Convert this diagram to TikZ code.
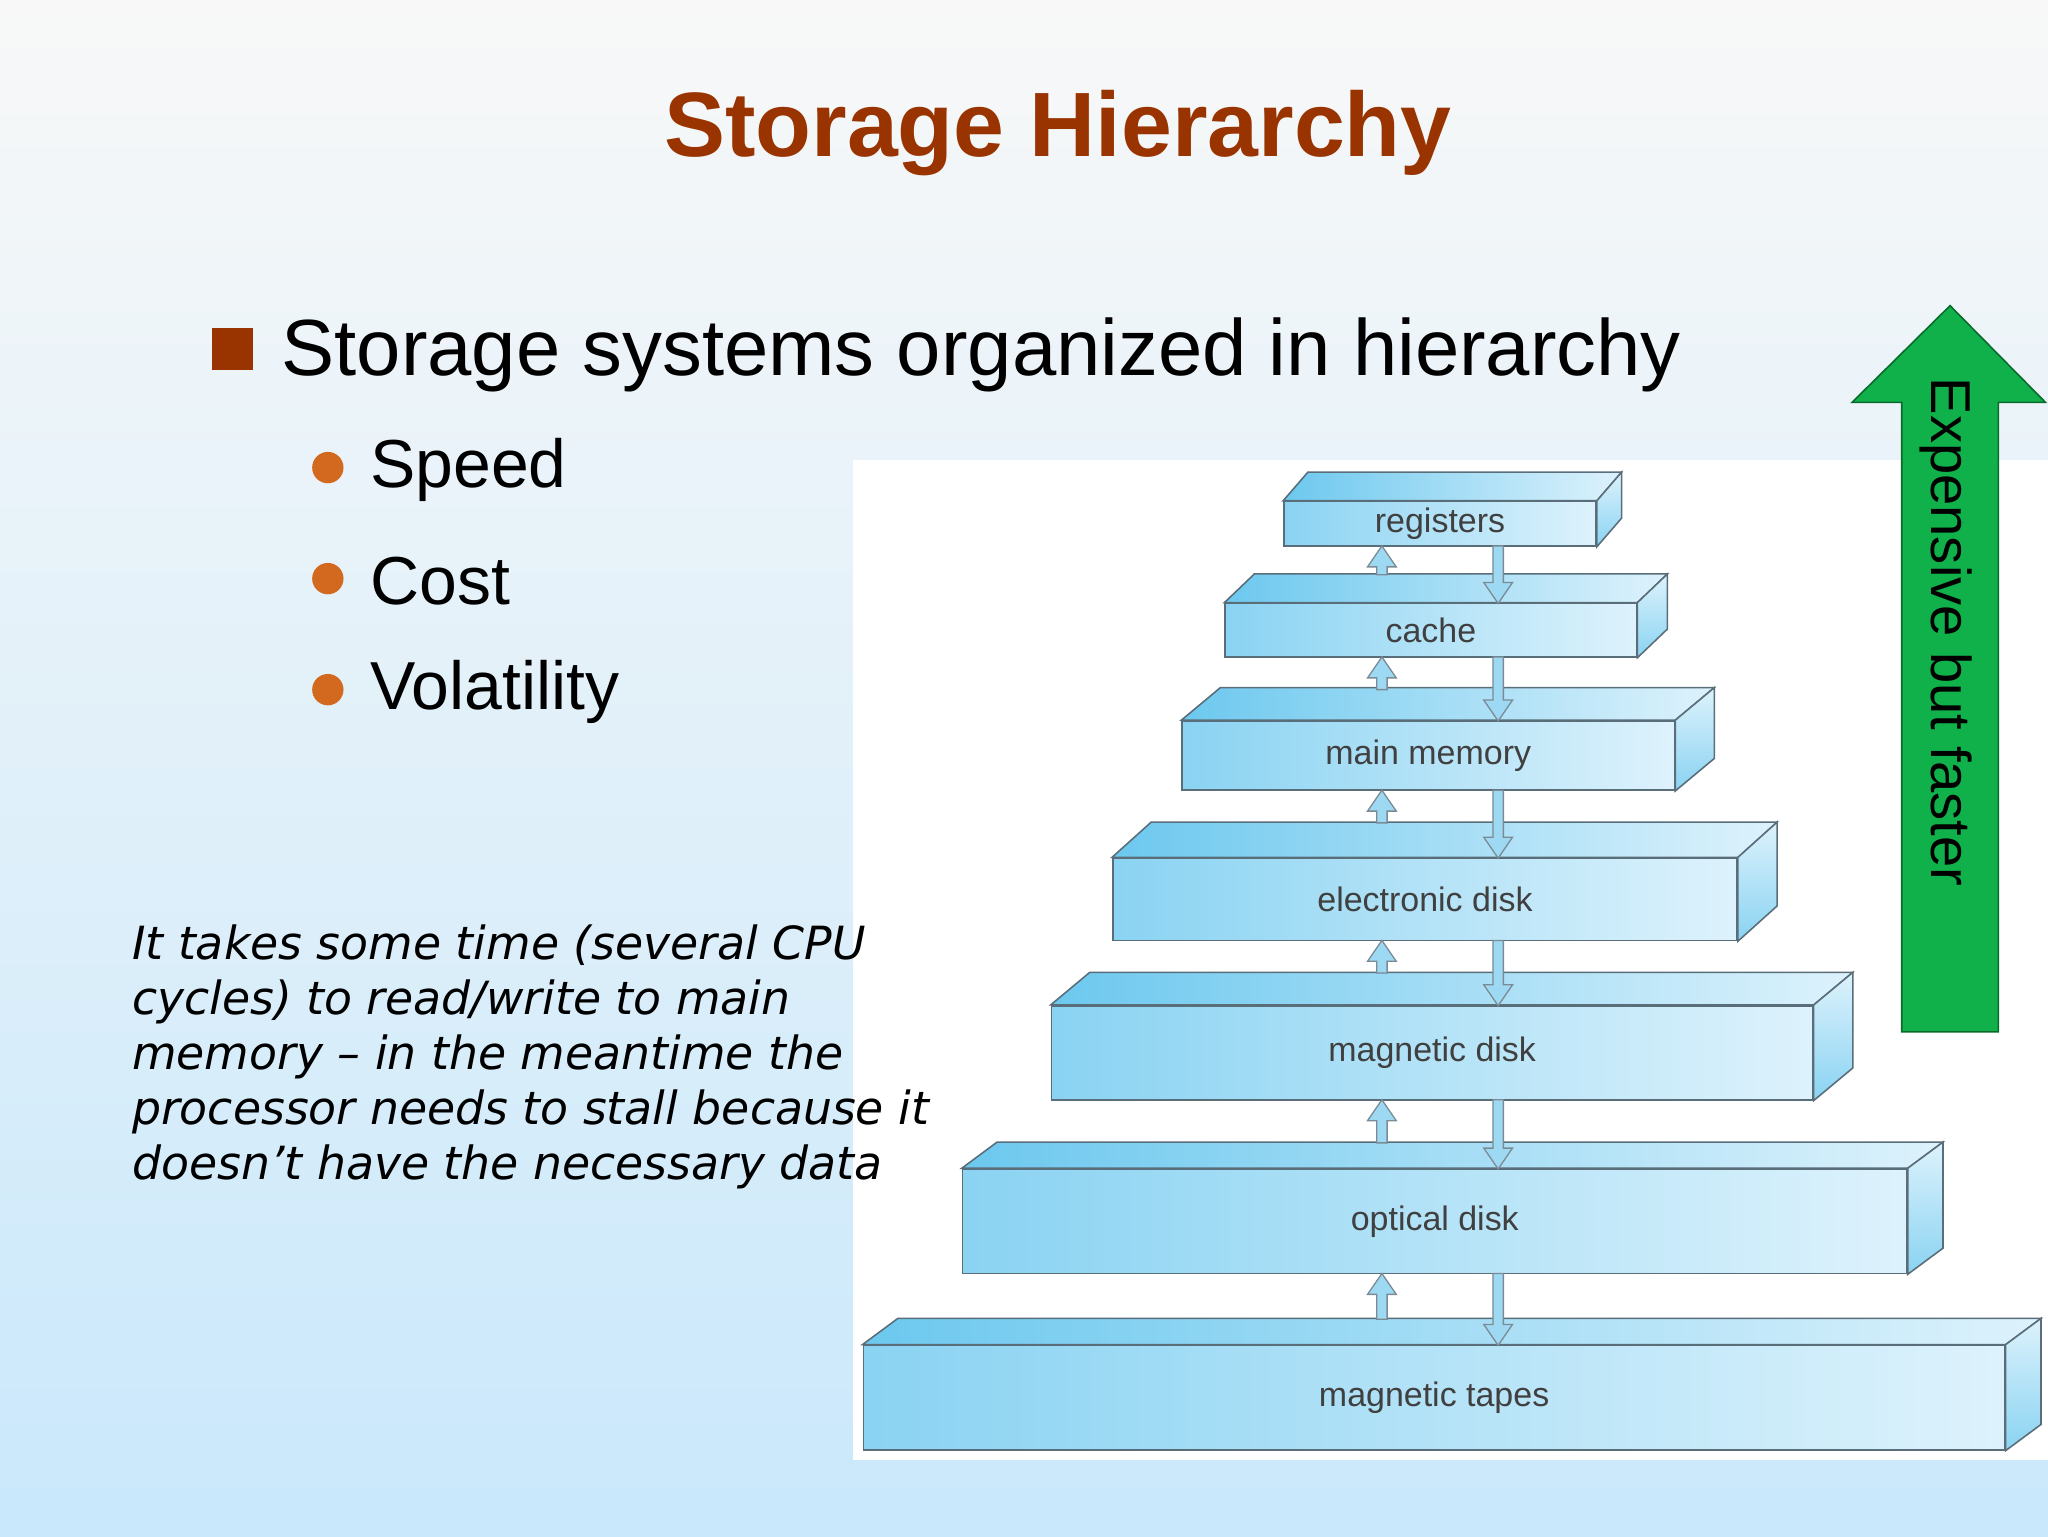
\documentclass[tikz,border=0pt]{standalone}
\usepackage{fontspec}
\setmainfont{Liberation Sans}
\newfontfamily\verd{DejaVu Sans}
\usetikzlibrary{arrows.meta,calc}
\definecolor{titlec}{HTML}{993300}
\definecolor{bulc}{HTML}{D2691E}
\definecolor{bglow}{HTML}{C9E8FB}
\definecolor{bghigh}{HTML}{F8F8F8}
\definecolor{bxl}{HTML}{8AD3F2}
\definecolor{bxr}{HTML}{DDF2FC}
\definecolor{bxtop}{HTML}{6CC8EE}
\definecolor{bxedge}{HTML}{5A6E7A}
\definecolor{arrf}{HTML}{9ED9F3}
\definecolor{greenarr}{HTML}{10B04A}
\tikzset{
  frontbox/.style={draw=bxedge, line width=1.2pt, left color=bxl, right color=bxr, inner sep=0pt,
     font=\fontsize{26}{30}\selectfont, text=black!75},
  topface/.style={draw=bxedge, line width=1.2pt, left color=bxtop, right color=bxr},
  sideface/.style={draw=bxedge, line width=1.2pt, top color=bxr, bottom color=bxl},
  flowarr/.style={draw=bxedge!80, line width=1pt, fill=arrf},
}
\newcommand\layer[8]{%
  \node[frontbox, minimum width={(#3-#2)*1pt}, minimum height={(#5-#4)*1pt}] (#1) at ({(#2+#3)/2},{(#4+#5)/2}) {#8};
  \draw[topface] (#1.north west) -- ++(#6,#7) -- ($(#1.north east)+(#6,#7)$) -- (#1.north east) -- cycle;
  \draw[sideface] (#1.north east) -- ++(#6,#7) -- ($(#1.south east)+(#6,#7)$) -- (#1.south east) -- cycle;
}
\newcommand\uparr[3]{%
  \draw[flowarr] (#1-4,#2) -- (#1-4,#3+16) -- (#1-11,#3+16) -- (#1,#3) -- (#1+11,#3+16) -- (#1+4,#3+16) -- (#1+4,#2) -- cycle;}
\newcommand\downarr[3]{%
  \draw[flowarr] (#1-4,#2) -- (#1-4,#3-16) -- (#1-11,#3-16) -- (#1,#3) -- (#1+11,#3-16) -- (#1+4,#3-16) -- (#1+4,#2) -- cycle;}
\begin{document}
\begin{tikzpicture}[x=1pt,y=-1pt]
\useasboundingbox (0,0) rectangle (1568,1176);
\shade[top color=bghigh, bottom color=bglow] (0,0) rectangle (1568,1176);
\node[font=\bfseries\fontsize{70}{76}\selectfont, text=titlec] (title) at (810,102) {Storage Hierarchy};
\fill[titlec] (162,251) rectangle (194,283);
\node[anchor=west, font=\fontsize{61}{68}\selectfont] (b1) at (212,272) {Storage systems organized in hierarchy};
\foreach \y/\t [count=\i] in {360/Speed,445/Cost,530/Volatility}{
  \fill[bulc] (251,\y-2) circle (12);
  \node[anchor=west, font=\fontsize{52}{58}\selectfont] (s\i) at (280,\y) {\t};
}
\fill[white] (653,352) rectangle (1568,1118);
\node[anchor=north west, align=left, font=\verd\itshape\fontsize{35}{42}\selectfont, inner sep=0pt] (note) at (101,708)
 {It takes some time (several CPU\\cycles) to read/write to main\\memory – in the meantime the\\processor needs to stall because it\\doesn’t have the necessary data};
\layer{reg}{983}{1222}{384}{418}{19}{-22}{registers}
\layer{cache}{938}{1253}{462}{503}{23}{-22}{cache}
\layer{mem}{905}{1282}{552}{605}{30}{-25}{main memory}
\layer{edisk}{852}{1330}{657}{720}{30}{-27}{electronic disk}
\layer{mdisk}{805}{1388}{770}{842}{30}{-25}{magnetic disk}
\layer{odisk}{737}{1460}{895}{975}{27}{-20}{optical disk}
\layer{tape}{661}{1535}{1030}{1110}{27}{-20}{magnetic tapes}
\foreach \a/\b/\c in {418/440/462, 503/528/552, 605/630/657, 720/745/770, 842/875/895, 975/1010/1030}{
  \uparr{1058}{\b}{\a}
  \downarr{1147}{\a}{\c}
}
\draw[greenarr!60!black, fill=greenarr, line width=1.2pt] (1456,790) -- (1456,308) -- (1418,308) -- (1493,234) -- (1566,308) -- (1530,308) -- (1530,790) -- cycle;
\node[rotate=-90, font=\fontsize{43}{48}\selectfont] (exp) at (1490,484) {Expensive but faster};
\end{tikzpicture}
\end{document}
